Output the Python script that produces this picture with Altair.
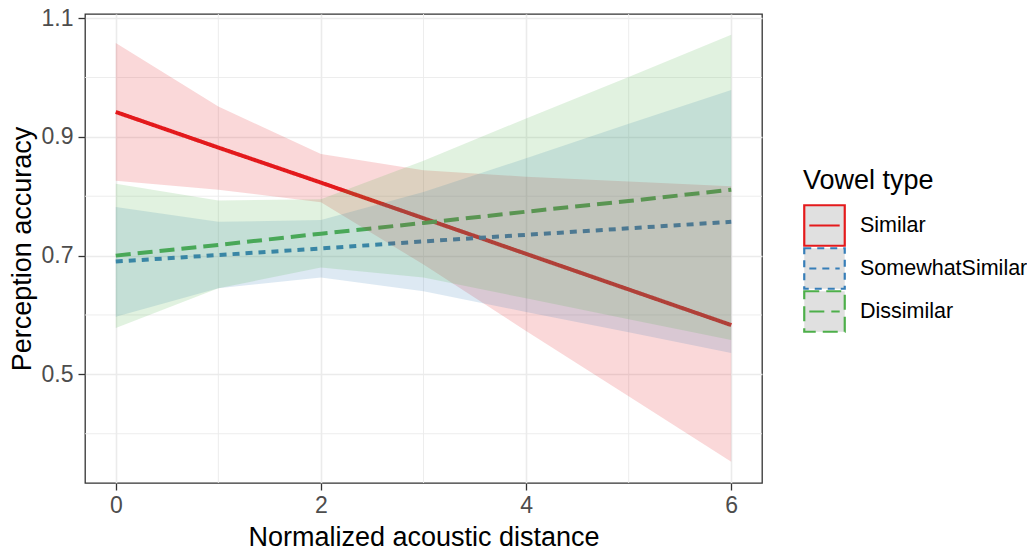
import altair as alt
import pandas as pd

categories = ["Similar", "SomewhatSimilar", "Dissimilar"]
colors = ["#E41A1C", "#377EB8", "#4DAF4A"]
dashes = [[1, 0], [7, 6], [15, 7]]
x_vals = [0, 1, 2, 3, 4, 5, 6]

similar_fit = [0.942, 0.882, 0.823, 0.763, 0.703, 0.643, 0.583]
similar_low = [0.826, 0.811, 0.790, 0.685, 0.573, 0.463, 0.353]
similar_high = [1.058, 0.951, 0.871, 0.844, 0.833, 0.825, 0.817]

somewhat_fit = [0.690, 0.701, 0.712, 0.724, 0.735, 0.746, 0.757]
somewhat_low = [0.597, 0.645, 0.663, 0.640, 0.605, 0.571, 0.536]
somewhat_high = [0.782, 0.757, 0.760, 0.807, 0.864, 0.922, 0.979]

dissimilar_fit = [0.700, 0.718, 0.737, 0.755, 0.774, 0.792, 0.811]
dissimilar_low = [0.578, 0.645, 0.680, 0.663, 0.628, 0.593, 0.558]
dissimilar_high = [0.821, 0.793, 0.795, 0.860, 0.931, 1.001, 1.072]

x_ticks = [0, 2, 4, 6]
y_ticks = [0.5, 0.7, 0.9, 1.1]
x_minor = [1, 3, 5]
y_minor = [0.4, 0.6, 0.8, 1.0]

series = {
    "Similar": (similar_fit, similar_low, similar_high),
    "SomewhatSimilar": (somewhat_fit, somewhat_low, somewhat_high),
    "Dissimilar": (dissimilar_fit, dissimilar_low, dissimilar_high),
}
rows = []
for cat in categories:
    fit, low, high = series[cat]
    for i, xv in enumerate(x_vals):
        rows.append({"type": cat, "x": xv, "fit": fit[i], "low": low[i], "high": high[i]})
df = pd.DataFrame(rows)

FONT = "Liberation Sans"
KEY_PATH = "M-1,-1H1V1H-1Z M-0.75,0H0.75"
xscale = alt.Scale(domain=[-0.3, 6.3], nice=False, zero=False)
yscale = alt.Scale(domain=[0.317, 1.107], nice=False, zero=False)
cscale = alt.Scale(domain=categories, range=colors)
dscale = alt.Scale(domain=categories, range=dashes)

legend = alt.Legend(
    title="Vowel type",
    orient="none",
    legendX=718,
    legendY=154,
    symbolType=KEY_PATH,
    symbolSize=1640,
    symbolFillColor="#e0e0e0",
    symbolStrokeWidth=2.2,
    symbolOpacity=1,
    titleFontSize=27,
    titleFont=FONT,
    titleFontWeight="normal",
    titleColor="#000000",
    titlePadding=9,
    labelFontSize=21.5,
    labelFont=FONT,
    labelColor="#000000",
    labelOffset=14,
    labelLimit=400,
    clipHeight=43,
    rowPadding=0,
    padding=0,
)

minor_x = alt.Chart(pd.DataFrame({"v": x_minor})).mark_rule(
    color="#ebebeb", strokeWidth=0.9
).encode(x=alt.X("v:Q", scale=xscale))

minor_y = alt.Chart(pd.DataFrame({"v": y_minor})).mark_rule(
    color="#ebebeb", strokeWidth=0.9
).encode(y=alt.Y("v:Q", scale=yscale))

lines = alt.Chart(df).mark_line(strokeWidth=4, strokeCap="butt").encode(
    x=alt.X(
        "x:Q",
        scale=xscale,
        axis=alt.Axis(values=x_ticks, format="d", title="Normalized acoustic distance"),
    ),
    y=alt.Y(
        "fit:Q",
        scale=yscale,
        axis=alt.Axis(values=y_ticks, format=".1f", title="Perception accuracy"),
    ),
    stroke=alt.Stroke("type:N", scale=cscale, legend=None, sort=categories),
    strokeDash=alt.StrokeDash("type:N", scale=dscale, legend=None, sort=categories),
)

# invisible keys that carry the legend (grey key fill, coloured dashed outline)
keys = alt.Chart(df).mark_point(
    shape=KEY_PATH, filled=True, fill="#e0e0e0", opacity=0, strokeWidth=2.2, size=10
).encode(
    x=alt.X("x:Q", scale=xscale),
    y=alt.Y("fit:Q", scale=yscale),
    stroke=alt.Stroke("type:N", scale=cscale, legend=legend, sort=categories),
    strokeDash=alt.StrokeDash("type:N", scale=dscale, legend=legend, sort=categories),
)

ribbons = alt.Chart(df).mark_area(opacity=0.17).encode(
    x=alt.X("x:Q", scale=xscale),
    y=alt.Y("high:Q", scale=yscale),
    y2=alt.Y2("low:Q"),
    fill=alt.Fill("type:N", scale=cscale, legend=None),
)

chart = (
    alt.layer(minor_x, minor_y, lines, ribbons, keys)
    .resolve_scale(stroke="independent", strokeDash="independent")
    .properties(
        width=677,
        height=469,
        padding={"left": 77, "top": 6, "right": 265, "bottom": 75},
        autosize=alt.AutoSizeParams(type="none"),
    )
    .configure_view(stroke="#333333", strokeWidth=1.3)
    .configure_axis(
        domain=False,
        grid=True,
        gridColor="#ebebeb",
        gridWidth=1.6,
        tickColor="#333333",
        tickWidth=1.3,
        tickSize=7,
        labelColor="#4d4d4d",
        labelFont=FONT,
        labelFontSize=23,
        labelPadding=5,
        titleFont=FONT,
        titleFontSize=27,
        titleFontWeight="normal",
        titleColor="#000000",
    )
    .configure_axisX(titlePadding=7, labelPadding=4)
    .configure_axisY(titlePadding=5)
)

chart.save("out.html", embed_options={"renderer": "svg", "actions": False})
